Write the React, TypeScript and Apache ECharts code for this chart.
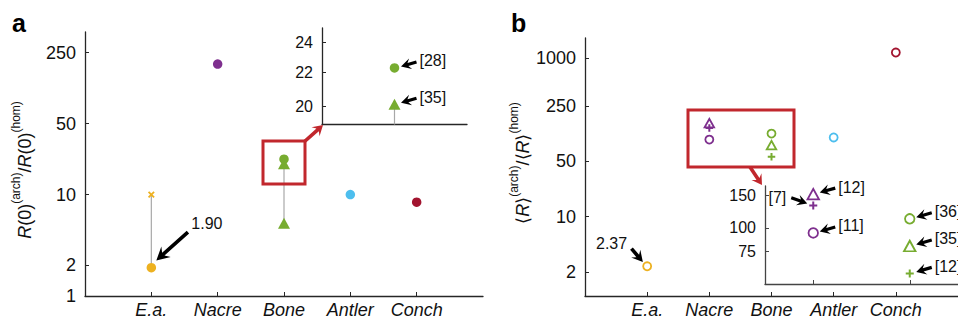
import React, { useEffect, useRef } from "react";
import * as echarts from "echarts";

const FONT = "'Liberation Sans', Arial, Helvetica, sans-serif";

// ---------- data ----------
const categories = ["E.a.", "Nacre", "Bone", "Antler", "Conch"];
const materialColors = ["#EDB120", "#7E2F8E", "#77AC30", "#4DBEEE", "#A2142F"];

// panel a : R(0)(arch)/R(0)(hom)
const aTicks = [1, 2, 10, 50, 250];
const aCircle = [1.9, 193, 22.3, 10.0, 8.4];
const aCrossEa = 10; // upper value for E.a. (x marker)
const aBoneTriangles = [20.1, 5.2];
const aInsetTicks = [20, 22, 24];
const aInsetRefs = ["[28]", "[35]"];
const aEaLabel = "1.90";

// panel b : <R>(arch)/<R>(hom)
const bTicks = [2, 10, 50, 250, 1000];
const bCircle = [2.37, 94, 112, 100, 1180];
const bTriangle = [null, 152, 80, null, null];
const bPlus = [null, 132, 57, null, null];
const bInsetTicks = [75, 100, 150];
const bNacreRefs = ["[12]", "[7]", "[11]"]; // triangle, plus, circle
const bBoneRefs = ["[36]", "[35]", "[12]"]; // circle, triangle, plus
const bEaLabel = "2.37";

const CROSS = "path://M0 0L10 10M10 0L0 10";
const PLUS = "path://M5 0L5 10M0 5L10 5";
const AXIS = "#262626";
const RED = "#C1272D";

function arrowPts(tail: number[], tip: number[], headLen: number, headHalf: number, shaftHalf: number) {
  const dx = tip[0] - tail[0];
  const dy = tip[1] - tail[1];
  const len = Math.hypot(dx, dy);
  const ux = dx / len, uy = dy / len;
  const nx = -uy, ny = ux;
  const back = [tip[0] - ux * headLen, tip[1] - uy * headLen];
  const neck = [tip[0] - ux * headLen * 0.72, tip[1] - uy * headLen * 0.72];
  return [
    [tail[0] + nx * shaftHalf, tail[1] + ny * shaftHalf],
    [neck[0] + nx * shaftHalf, neck[1] + ny * shaftHalf],
    [back[0] + nx * headHalf, back[1] + ny * headHalf],
    [tip[0], tip[1]],
    [back[0] - nx * headHalf, back[1] - ny * headHalf],
    [neck[0] - nx * shaftHalf, neck[1] - ny * shaftHalf],
    [tail[0] - nx * shaftHalf, tail[1] - ny * shaftHalf],
  ];
}

function xAxisCfg(gridIndex: number, min: number, max: number, tickVals: number[] | null, labels: boolean, color = AXIS) {
  return {
    type: "value",
    gridIndex,
    min,
    max,
    axisLine: { show: true, onZero: false, lineStyle: { color, width: 1.3 } },
    axisTick: tickVals
      ? { show: true, inside: true, length: 4, customValues: tickVals, lineStyle: { color, width: 1 } }
      : { show: false },
    axisLabel: labels
      ? {
          show: true,
          customValues: tickVals,
          formatter: (v: number) => categories[Math.round(v) - 1] ?? "",
          color: "#111",
          fontSize: 18,
          fontStyle: "italic",
          fontFamily: FONT,
          margin: 5,
        }
      : { show: false },
    splitLine: { show: false },
  };
}

function yAxisCfg(gridIndex: number, min: number, max: number, ticks: number[], fontSize: number, color = AXIS) {
  return {
    type: "log",
    logBase: 10,
    gridIndex,
    min,
    max,
    axisLine: { show: true, onZero: false, lineStyle: { color, width: 1.3 } },
    axisTick: { show: true, inside: true, length: 4, customValues: ticks, lineStyle: { color, width: 1 } },
    axisLabel: {
      show: true,
      customValues: ticks,
      formatter: (v: number) => String(Math.round(v)),
      color: "#111",
      fontSize,
      fontFamily: FONT,
      margin: 9,
    },
    splitLine: { show: false },
    minorTick: { show: false },
  };
}

function rangeLine(xi: number, yi: number, pts: number[][]) {
  return {
    type: "line",
    xAxisIndex: xi,
    yAxisIndex: yi,
    data: pts,
    symbol: "none",
    lineStyle: { color: "#A8A8A8", width: 1.2 },
    z: 1,
    silent: true,
  };
}

function filledScatter(xi: number, data: any[], symbol: string, size: any) {
  return {
    type: "scatter",
    xAxisIndex: xi,
    yAxisIndex: xi,
    symbol,
    symbolSize: size,
    itemStyle: { opacity: 1 },
    data,
    z: 3,
  };
}

function openScatter(xi: number, data: any[], symbol: string, size: any, bw = 1.8) {
  return {
    type: "scatter",
    xAxisIndex: xi,
    yAxisIndex: xi,
    symbol,
    symbolSize: size,
    itemStyle: { opacity: 1 },
    data: data.map((d: any) => ({
      value: d.value,
      itemStyle: {
        opacity: 1,
        color: symbol === "circle" || symbol === "triangle" ? "#fff" : d.color,
        borderColor: d.color,
        borderWidth: bw,
      },
    })),
    z: 3,
  };
}

export default function App() {
  const ref = useRef<HTMLDivElement>(null);

  useEffect(() => {
    if (!ref.current) return;
    const chart = echarts.init(ref.current, null, { renderer: "svg" });

    const aCircleData = aCircle.map((v, i) => ({ value: [i + 1, v], itemStyle: { color: materialColors[i], opacity: 1 } }));
    const aTriData = aBoneTriangles.map((v) => ({ value: [3, v], itemStyle: { color: materialColors[2], opacity: 1 } }));
    const aCrossData = [
      { value: [1, aCrossEa], itemStyle: { color: "none", borderColor: materialColors[0], borderWidth: 1.8, opacity: 1 } },
    ];

    const bCircleData = bCircle.map((v, i) => ({ value: [i + 1, v], color: materialColors[i] }));
    const bTriData = bTriangle
      .map((v, i) => (v == null ? null : { value: [i + 1, v], color: materialColors[i] }))
      .filter(Boolean);
    const bPlusData = bPlus
      .map((v, i) => (v == null ? null : { value: [i + 1, v], color: materialColors[i] }))
      .filter(Boolean);
    // inset b : Nacre at 0.5, Bone at 1.5
    const insetX = (i: number) => (i === 1 ? 0.5 : 1.5);
    const bInCircle = [1, 2].map((i) => ({ value: [insetX(i), bCircle[i]], color: materialColors[i] }));
    const bInTri = [1, 2].map((i) => ({ value: [insetX(i), bTriangle[i]], color: materialColors[i] }));
    const bInPlus = [1, 2].map((i) => ({ value: [insetX(i), bPlus[i]], color: materialColors[i] }));

    const option: any = {
      animation: false,
      backgroundColor: "#fff",
      textStyle: { fontFamily: FONT },
      grid: [
        { left: 85, top: 32, width: 398, height: 264 },
        { left: 322, top: 28, width: 145, height: 96 },
        { left: 585, top: 38, width: 388, height: 258 },
        { left: 765, top: 186, width: 196, height: 98 },
      ],
      xAxis: [
        xAxisCfg(0, 0, 6, [1, 2, 3, 4, 5], true),
        xAxisCfg(1, 0, 1, null, false),
        xAxisCfg(2, 0, 6, [1, 2, 3, 4, 5], true),
        xAxisCfg(3, 0, 2, [0.5, 1.5], false, "#444"),
      ],
      yAxis: [
        yAxisCfg(0, 1, 400, aTicks, 18),
        yAxisCfg(1, 19, 25, aInsetTicks, 16),
        yAxisCfg(2, 1, 1800, bTicks, 18),
        yAxisCfg(3, 50, 168, bInsetTicks, 16, "#444"),
      ],
      series: [
        // panel a main
        rangeLine(0, 0, [[1, aCircle[0]], [1, aCrossEa]]),
        rangeLine(0, 0, [[3, aBoneTriangles[1]], [3, aBoneTriangles[0]]]),
        filledScatter(0, aCircleData, "circle", 9.5),
        filledScatter(0, aTriData, "triangle", [12, 11]),
        filledScatter(0, aCrossData, CROSS, 5.5),
        // panel a inset
        rangeLine(1, 1, [[0.5, aBoneTriangles[1]], [0.5, aBoneTriangles[0]]]),
        filledScatter(1, [{ value: [0.5, aCircle[2]], itemStyle: { color: materialColors[2], opacity: 1 } }], "circle", 9.5),
        filledScatter(1, [{ value: [0.5, aBoneTriangles[0]], itemStyle: { color: materialColors[2], opacity: 1 } }], "triangle", [12, 11]),
        // panel b main
        openScatter(2, bCircleData, "circle", 8),
        openScatter(2, bTriData, "triangle", [9.5, 8.5]),
        openScatter(2, bPlusData, PLUS, 7.5, 2),
        // panel b inset
        openScatter(3, bInCircle, "circle", 9.5),
        openScatter(3, bInTri, "triangle", [11.5, 10.5]),
        openScatter(3, bInPlus, PLUS, 8, 2),
      ],
    };
    chart.setOption(option);

    const px = (g: number, x: number, y: number) => chart.convertToPixel({ gridIndex: g } as any, [x, y]) as number[];
    const g: any[] = [];
    const addArrow = (tail: number[], tip: number[], hl: number, hh: number, sh: number, fill = "#000") =>
      g.push({ type: "polygon", z: 100, shape: { points: arrowPts(tail, tip, hl, hh, sh) }, style: { fill } });
    const addText = (x: number, y: number, text: string, align = "left", size = 16) =>
      g.push({
        type: "text",
        z: 100,
        x,
        y,
        style: { text, fontSize: size, fontFamily: FONT, fill: "#111", align, verticalAlign: "middle" },
      });
    const leftRef = (p: number[], label: string) => {
      const tip = [p[0] + 6.5, p[1] - 1.5];
      addArrow([tip[0] + 15.5, tip[1] - 4.5], tip, 10, 5.5, 1.6);
      addText(p[0] + 25, p[1] - 7, label);
    };

    // panel a annotations
    const pEa = px(0, 1, aCircle[0]);
    const tipEa = [pEa[0] + 5, pEa[1] - 7.3];
    addArrow([tipEa[0] + 31.6, tipEa[1] - 28.3], tipEa, 13, 7, 1.8);
    addText(pEa[0] + 40, pEa[1] - 44, aEaLabel);
    leftRef(px(1, 0.5, aCircle[2]), aInsetRefs[0]);
    leftRef(px(1, 0.5, aBoneTriangles[0]), aInsetRefs[1]);

    // panel b annotations
    const pEb = px(2, 1, bCircle[0]);
    const tipEb = [pEb[0] - 4.3, pEb[1] - 4.3];
    addArrow([tipEb[0] - 11.4, tipEb[1] - 13.4], tipEb, 11, 6, 1.8);
    addText(pEb[0] - 20, pEb[1] - 23, bEaLabel, "right");

    leftRef(px(3, 0.5, bTriangle[1] as number), bNacreRefs[0]);
    leftRef(px(3, 0.5, bCircle[1]), bNacreRefs[2]);
    const pN = px(3, 0.5, bPlus[1] as number);
    const tipN = [pN[0] - 6, pN[1] - 2];
    addArrow([tipN[0] - 16, tipN[1] - 5.7], tipN, 10, 5.5, 1.6);
    addText(pN[0] - 27, pN[1] - 8.5, bNacreRefs[1], "right");

    leftRef(px(3, 1.5, bCircle[2]), bBoneRefs[0]);
    leftRef(px(3, 1.5, bTriangle[2] as number), bBoneRefs[1]);
    leftRef(px(3, 1.5, bPlus[2] as number), bBoneRefs[2]);

    // zoom boxes and red arrows
    g.push({ type: "rect", z: 90, shape: { x: 263, y: 141, width: 42, height: 43 }, style: { fill: "none", stroke: RED, lineWidth: 3 } });
    addArrow([304, 142], [323, 125], 10, 6, 1.8, RED);
    g.push({ type: "rect", z: 90, shape: { x: 688, y: 110, width: 106, height: 57 }, style: { fill: "none", stroke: RED, lineWidth: 3 } });
    addArrow([750, 167], [762, 185], 10, 6, 1.8, RED);

    // panel letters
    g.push({ type: "text", z: 100, x: 12, y: 23, style: { text: "a", fontSize: 25, fontWeight: "bold", fontFamily: FONT, fill: "#000", verticalAlign: "middle" } });
    g.push({ type: "text", z: 100, x: 511, y: 23, style: { text: "b", fontSize: 25, fontWeight: "bold", fontFamily: FONT, fill: "#000", verticalAlign: "middle" } });

    // y-axis titles
    const rich = {
      n: { fontSize: 18, fontFamily: FONT, fill: "#111", lineHeight: 24, verticalAlign: "bottom" },
      i: { fontSize: 18, fontFamily: FONT, fontStyle: "italic", fill: "#111", lineHeight: 24, verticalAlign: "bottom" },
      s: { fontSize: 12, fontFamily: FONT, fill: "#111", lineHeight: 24, verticalAlign: "top" },
    };
    g.push({
      type: "text",
      z: 100,
      x: 22,
      y: 170,
      rotation: Math.PI / 2,
      style: { text: "{i|R}{n|(0)}{s|(arch)}{n|/}{i|R}{n|(0)}{s|(hom)}", rich, align: "center", verticalAlign: "middle" },
    });
    g.push({
      type: "text",
      z: 100,
      x: 520,
      y: 163,
      rotation: Math.PI / 2,
      style: { text: "{n|⟨}{i|R}{n|⟩}{s|(arch)}{n|/⟨}{i|R}{n|⟩}{s|(hom)}", rich, align: "center", verticalAlign: "middle" },
    });

    chart.setOption({ graphic: { elements: g } });

    return () => chart.dispose();
  }, []);

  return <div ref={ref} style={{ position: "absolute", left: 0, top: 0, width: 958, height: 320 }} />;
}
